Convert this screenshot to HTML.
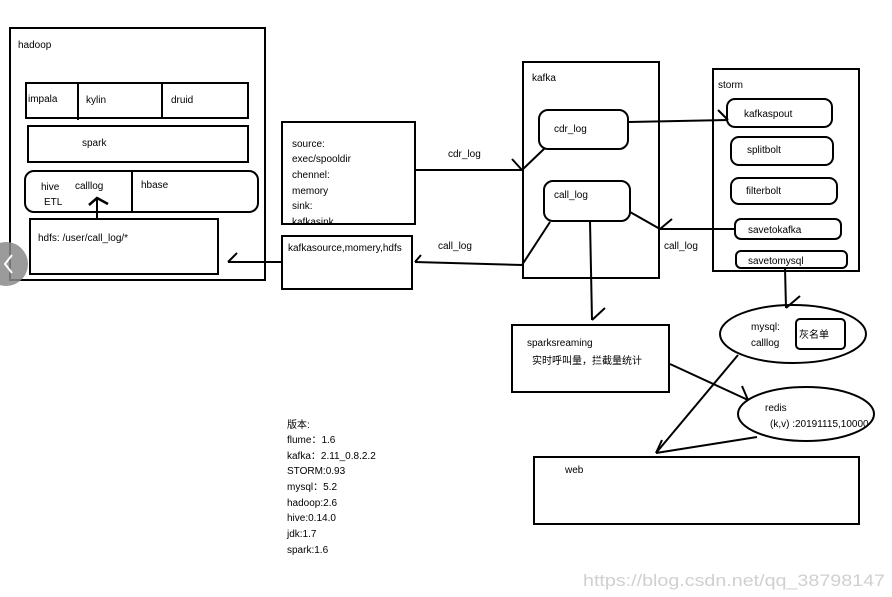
<!DOCTYPE html>
<html><head><meta charset="utf-8"><style>
html,body{margin:0;padding:0;background:#fff;}
svg{display:block}
text{font-family:"Liberation Sans","Noto Sans CJK SC",sans-serif;font-size:10px;fill:#000}
</style></head><body>
<svg width="892" height="597" viewBox="0 0 892 597" xmlns="http://www.w3.org/2000/svg">
<g fill="none" stroke="#000" stroke-width="2">
<rect x="10" y="28" width="255" height="252"/>
<rect x="26" y="83" width="222" height="35"/>
<line x1="78" y1="83" x2="78" y2="120"/>
<line x1="162" y1="83" x2="162" y2="118"/>
<rect x="28" y="126" width="220" height="36"/>
<rect x="25" y="171" width="233" height="41" rx="9"/>
<line x1="132" y1="171" x2="132" y2="213"/>
<rect x="30" y="219" width="188" height="55"/>
<line x1="97" y1="218" x2="97" y2="198"/>
<polyline points="89,205 97,198 108,204" stroke-width="2.5"/>
<rect x="282" y="122" width="133" height="102"/>
<rect x="282" y="236" width="130" height="53"/>
<line x1="282" y1="262" x2="228" y2="262"/>
<line x1="228" y1="262" x2="237" y2="253"/>
<rect x="523" y="62" width="136" height="216"/>
<rect x="539" y="110" width="89" height="39" rx="9"/>
<rect x="544" y="181" width="86" height="40" rx="9"/>
<line x1="415" y1="170" x2="522" y2="170"/>
<line x1="512" y1="159" x2="522" y2="170"/>
<line x1="545" y1="148" x2="522" y2="170"/>
<line x1="550" y1="222" x2="522" y2="265"/>
<line x1="522" y1="265" x2="415" y2="262"/>
<line x1="415" y1="262" x2="421" y2="255"/>
<rect x="713" y="69" width="146" height="202"/>
<rect x="727" y="99" width="105" height="28" rx="8"/>
<rect x="731" y="137" width="102" height="28" rx="8"/>
<rect x="731" y="178" width="106" height="26" rx="8"/>
<rect x="735" y="219" width="106" height="20" rx="6"/>
<rect x="736" y="251" width="111" height="17" rx="5"/>
<line x1="628" y1="122" x2="728" y2="120"/>
<line x1="718" y1="110" x2="728" y2="120"/>
<line x1="735" y1="229" x2="660" y2="229"/>
<line x1="660" y1="229" x2="672" y2="219"/>
<line x1="630" y1="212" x2="660" y2="229"/>
<line x1="590" y1="221" x2="592" y2="320"/>
<line x1="592" y1="320" x2="605" y2="308"/>
<rect x="512" y="325" width="157" height="67"/>
<line x1="785" y1="268" x2="786" y2="308"/>
<line x1="786" y1="308" x2="800" y2="296"/>
<ellipse cx="793" cy="334" rx="73" ry="29"/>
<rect x="796" y="319" width="49" height="30" rx="4"/>
<line x1="670" y1="364" x2="748" y2="400"/>
<line x1="748" y1="400" x2="742" y2="386"/>
<ellipse cx="806" cy="414" rx="68" ry="27"/>
<line x1="738" y1="355" x2="656" y2="453"/>
<line x1="757" y1="437" x2="656" y2="453"/>
<line x1="656" y1="453" x2="662" y2="440"/>
<rect x="534" y="457" width="325" height="67"/>
</g>
<circle cx="6" cy="264" r="22" fill="#8a8a8a" opacity="0.85"/>
<polyline points="12,255 5,264 12,273" fill="none" stroke="#fff" stroke-width="2"/>
<text x="18" y="48">hadoop</text>
<text x="28" y="102">impala</text>
<text x="86" y="103">kylin</text>
<text x="171" y="103">druid</text>
<text x="82" y="146">spark</text>
<text x="41" y="190">hive</text>
<text x="75" y="189">calllog</text>
<text x="44" y="205">ETL</text>
<text x="141" y="188">hbase</text>
<text x="38" y="241">hdfs:  /user/call_log/*</text>
<svg x="282" y="122" width="133" height="101" overflow="hidden">
<text x="10" y="25">source:</text>
<text x="10" y="40">exec/spooldir</text>
<text x="10" y="56">chennel:</text>
<text x="10" y="72">memory</text>
<text x="10" y="87">sink:</text>
<text x="10" y="103">kafkasink</text>
</svg>
<text x="288" y="251">kafkasource,momery,hdfs</text>
<text x="448" y="157">cdr_log</text>
<text x="438" y="249">call_log</text>
<text x="532" y="81">kafka</text>
<text x="554" y="132">cdr_log</text>
<text x="554" y="198">call_log</text>
<text x="718" y="88">storm</text>
<text x="744" y="117">kafkaspout</text>
<text x="747" y="153">splitbolt</text>
<text x="746" y="194">filterbolt</text>
<text x="748" y="233">savetokafka</text>
<text x="748" y="264">savetomysql</text>
<text x="664" y="249">call_log</text>
<text x="527" y="346">sparksreaming</text>
<text x="532" y="364">实时呼叫量，拦截量统计</text>
<text x="751" y="330">mysql:</text>
<text x="751" y="346">calllog</text>
<text x="799" y="338">灰名单</text>
<text x="765" y="411">redis</text>
<text x="770" y="427">(k,v) :20191115,10000</text>
<text x="565" y="473">web</text>
<text x="287" y="428">版本:</text>
<text x="287" y="443">flume：1.6</text>
<text x="287" y="459">kafka：2.11_0.8.2.2</text>
<text x="287" y="474">STORM:0.93</text>
<text x="287" y="490">mysql：5.2</text>
<text x="287" y="506">hadoop:2.6</text>
<text x="287" y="521">hive:0.14.0</text>
<text x="287" y="537">jdk:1.7</text>
<text x="287" y="553">spark:1.6</text>
<text x="583" y="586" textLength="302" lengthAdjust="spacingAndGlyphs" style="font-size:17px;fill:#d0d0d0">https://blog.csdn.net/qq_38798147</text>
</svg>
</body></html>
